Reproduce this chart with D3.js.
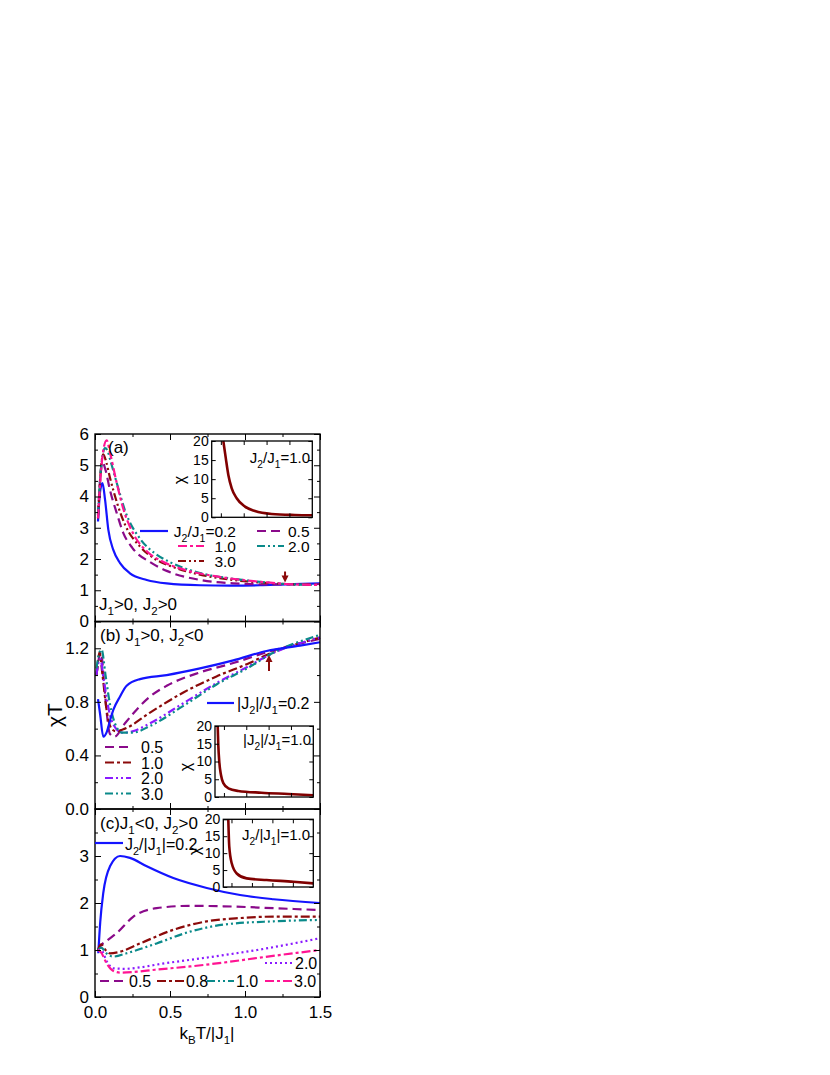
<!DOCTYPE html>
<html>
<head>
<meta charset="utf-8">
<script src="https://cdn.jsdelivr.net/npm/d3@7"></script>
<style>
body { margin: 0; background: #fff; }
text { font-family: "Liberation Sans", Arial, sans-serif; fill: #000; }
</style>
</head>
<body>
<script>
// ---- data: panel (a) J1>0, J2>0 ----
const aX02 = [0.02,0.035,0.05,0.067,0.089,0.122,0.167,0.233,0.345,0.478,0.7,0.9,1.1,1.27,1.5];
const aY02 = [3.2,4.2,4.43,3.9,2.93,2.29,1.87,1.54,1.33,1.22,1.16,1.15,1.16,1.19,1.22];
const aX05 = [0.02,0.035,0.05,0.07,0.1,0.145,0.189,0.25,0.367,0.478,0.7,0.922,1.14,1.27,1.5];
const aY05 = [3.4,4.6,5.1,4.85,4.2,3.47,2.83,2.35,1.9,1.62,1.33,1.22,1.19,1.19,1.2];
const aX10 = [0.02,0.04,0.06,0.078,0.1,0.145,0.189,0.256,0.345,0.45,0.6,0.8,1.0,1.15,1.27,1.5];
const aY10 = [3.3,4.8,5.6,5.8,5.4,4.43,3.6,2.8,2.25,1.92,1.65,1.45,1.32,1.25,1.2,1.17];
const aX20 = [0.02,0.04,0.067,0.085,0.1,0.15,0.2,0.3,0.4,0.5,0.7,0.9,1.1,1.27,1.5];
const aY20 = [3.4,4.9,5.55,5.45,5.2,4.35,3.55,2.65,2.18,1.9,1.55,1.38,1.27,1.2,1.17];
const aX30 = [0.02,0.035,0.055,0.075,0.1,0.15,0.2,0.3,0.4,0.5,0.7,0.9,1.1,1.27,1.5];
const aY30 = [3.3,4.6,5.35,5.1,4.6,3.75,3.1,2.4,2.0,1.78,1.5,1.34,1.25,1.2,1.17];

// ---- data: panel (b) J1>0, J2<0 ----
const bX02 = [0.02,0.035,0.055,0.08,0.1,0.122,0.167,0.211,0.3,0.478,0.7,0.922,1.144,1.367,1.5];
const bY02 = [0.82,0.7,0.54,0.58,0.66,0.74,0.84,0.92,0.97,1.0,1.05,1.11,1.18,1.22,1.245];
const bX05 = [0.01,0.025,0.04,0.06,0.08,0.1,0.13,0.2,0.367,0.478,0.7,0.922,1.144,1.5];
const bY05 = [1.0,1.12,1.17,0.95,0.7,0.56,0.54,0.64,0.84,0.92,1.02,1.09,1.17,1.27];
const bX10 = [0.01,0.02,0.03,0.05,0.08,0.11,0.14,0.2,0.367,0.589,0.81,1.03,1.144,1.5];
const bY10 = [1.0,1.1,1.17,1.0,0.72,0.6,0.58,0.6,0.72,0.87,0.99,1.09,1.15,1.28];
const bX20 = [0.01,0.02,0.035,0.06,0.1,0.14,0.18,0.25,0.367,0.589,0.81,1.03,1.16,1.5];
const bY20 = [1.0,1.08,1.12,0.95,0.7,0.6,0.57,0.58,0.64,0.79,0.94,1.07,1.15,1.28];
const bX30 = [0.01,0.025,0.044,0.07,0.1,0.14,0.18,0.25,0.367,0.589,0.81,1.03,1.16,1.5];
const bY30 = [1.05,1.15,1.19,1.0,0.78,0.62,0.57,0.57,0.62,0.77,0.93,1.06,1.15,1.3];

// ---- data: panel (c) J1<0, J2>0 ----
const cX02 = [0.022,0.035,0.055,0.1,0.167,0.233,0.345,0.522,0.745,0.967,1.19,1.5];
const cY02 = [0.93,1.6,2.21,2.78,3.0,2.96,2.78,2.53,2.32,2.17,2.08,2.0];
const cX05 = [0.02,0.033,0.08,0.145,0.256,0.411,0.633,0.856,1.19,1.5];
const cY05 = [1.0,1.07,1.2,1.36,1.71,1.89,1.94,1.93,1.89,1.85];
const cX08 = [0.02,0.04,0.07,0.1,0.15,0.3,0.522,0.745,0.967,1.19,1.5];
const cY08 = [1.0,1.12,1.0,0.93,0.95,1.14,1.43,1.61,1.68,1.71,1.71];
const cX10 = [0.02,0.04,0.08,0.122,0.21,0.411,0.633,0.856,1.19,1.5];
const cY10 = [1.0,1.05,0.92,0.86,0.93,1.14,1.39,1.54,1.61,1.64];
const cX20 = [0.02,0.04,0.08,0.122,0.2,0.3,0.45,0.633,0.878,1.08,1.5];
const cY20 = [1.0,1.0,0.75,0.61,0.6,0.63,0.71,0.79,0.9,1.0,1.25];
const cX30 = [0.02,0.04,0.08,0.12,0.17,0.25,0.4,0.633,0.85,1.08,1.5];
const cY30 = [1.0,0.95,0.7,0.56,0.52,0.53,0.58,0.65,0.73,0.83,1.0];

// ---- insets: chi vs T at ratio 1.0 ----
const inAX = [0.127,0.154,0.182,0.219,0.273,0.364,0.473,0.656,0.91,1.1];
const inAY = [20,15.5,11.1,7.6,5.0,2.8,1.65,0.87,0.6,0.52];
const inBX = [0.03,0.037,0.048,0.067,0.093,0.149,0.26,0.52,0.82,1.1];
const inBY = [20,14.6,9.9,6.2,3.9,2.45,1.7,1.2,0.85,0.5];
const inCX = [0.061,0.073,0.103,0.164,0.286,0.53,0.856,1.1];
const inCY = [20,11.9,7.0,4.0,2.55,2.05,1.56,1.08];

// ---- ticks ----
const xMajor = [0, 0.5, 1.0, 1.5];
const xMinor = [0.25, 0.75, 1.25];
const aMajor = [0, 1, 2, 3, 4, 5, 6];
const aMinor = [0.5, 1.5, 2.5, 3.5, 4.5, 5.5];
const bMajor = [0, 0.4, 0.8, 1.2];
const bMinor = [0.2, 0.6, 1.0];
const cMajor = [0, 1, 2, 3];
const cMinor = [0.5, 1.5, 2.5, 3.5];
const inYTicks = [0, 5, 10, 15, 20];
const inXTicks = [0.1, 0.35, 0.6, 0.85];

// ---- styles ----
const col = {
  blue: "#1414ff", purple: "#8a0a8a", dred: "#8b0a0a",
  pink: "#ff1493", teal: "#0a8a8a", violet: "#8a1aff"
};
const dash = {
  solid: null, dash: "9,5", dashdot: "9,3,3,3",
  dashdotdot: "8,3,2,3,2,3", dot: "2,3"
};

const svg = d3.select("body").append("svg")
  .attr("width", 830).attr("height", 1075);

const x = d3.scaleLinear([0, 1.5], [95, 320]);
const L = 95, R = 320;

function rich(sel, str) {
  const f = +sel.attr("font-size");
  const parts = str.split(/_(.)/);
  let low = false;
  parts.forEach((p, i) => {
    if (p === "") return;
    const sub = i % 2 === 1;
    let dy = 0;
    if (sub && !low) dy = f * 0.3;
    if (!sub && low) dy = -f * 0.3;
    sel.append("tspan").attr("dy", dy).attr("font-size", sub ? f * 0.68 : f).text(p);
    low = sub;
  });
  return sel;
}

function label(g, px, py, str, size, anchor) {
  const t = g.append("text").attr("x", px).attr("y", py)
    .attr("font-size", size).attr("text-anchor", anchor || "start");
  return rich(t, str);
}

const panels = [
  { y: d3.scaleLinear([0, 6], [621.5, 434]), major: aMajor, minor: aMinor, fmt: d3.format("d"),
    series: [
      [aX02, aY02, col.blue, dash.solid],
      [aX05, aY05, col.purple, dash.dash],
      [aX30, aY30, col.dred, dash.dashdotdot],
      [aX20, aY20, col.teal, dash.dashdotdot],
      [aX10, aY10, col.pink, dash.dashdot]
    ] },
  { y: d3.scaleLinear([0, 1.4], [809, 621.5]), major: bMajor, minor: bMinor, fmt: d3.format(".1f"),
    series: [
      [bX05, bY05, col.purple, dash.dash],
      [bX10, bY10, col.dred, dash.dashdot],
      [bX20, bY20, col.violet, dash.dashdotdot],
      [bX30, bY30, col.teal, dash.dashdotdot],
      [bX02, bY02, col.blue, dash.solid]
    ] },
  { y: d3.scaleLinear([0, 4], [997, 809]), major: cMajor, minor: cMinor, fmt: d3.format("d"),
    series: [
      [cX02, cY02, col.blue, dash.solid],
      [cX05, cY05, col.purple, dash.dash],
      [cX08, cY08, col.dred, dash.dashdot],
      [cX10, cY10, col.teal, dash.dashdotdot],
      [cX20, cY20, col.violet, dash.dot],
      [cX30, cY30, col.pink, dash.dashdot]
    ] }
];

panels.forEach((p, pi) => {
  const g = svg.append("g");
  const y = p.y;
  const top = y.range()[1], bot = y.range()[0];

  const line = d3.line().x(d => x(d[0])).y(d => y(d[1])).curve(d3.curveMonotoneX);
  p.series.forEach(s => {
    g.append("path")
      .datum(s[0].map((v, i) => [v, s[1][i]]))
      .attr("d", line)
      .attr("fill", "none")
      .attr("stroke", s[2])
      .attr("stroke-width", 2.2)
      .attr("stroke-dasharray", s[3]);
  });

  // axes with inward ticks
  const ax = (gen, tr) => g.append("g").attr("transform", tr).call(gen)
    .call(a => a.select(".domain").remove())
    .call(a => a.selectAll("text").attr("font-size", 17).attr("font-family", "Liberation Sans, Arial"));
  ax(d3.axisLeft(y).tickValues(p.major).tickSize(-6).tickPadding(6).tickFormat(p.fmt), `translate(${L},0)`);
  ax(d3.axisLeft(y).tickValues(p.minor).tickSize(-3).tickFormat(""), `translate(${L},0)`);
  ax(d3.axisRight(y).tickValues(p.major).tickSize(-6).tickFormat(""), `translate(${R},0)`);
  ax(d3.axisRight(y).tickValues(p.minor).tickSize(-3).tickFormat(""), `translate(${R},0)`);
  ax(d3.axisTop(x).tickValues(xMajor).tickSize(-6).tickFormat(""), `translate(0,${top})`);
  ax(d3.axisTop(x).tickValues(xMinor).tickSize(-3).tickFormat(""), `translate(0,${top})`);
  ax(d3.axisBottom(x).tickValues(xMajor).tickSize(-6).tickPadding(9)
      .tickFormat(pi === 2 ? d3.format(".1f") : ""), `translate(0,${bot})`);
  ax(d3.axisBottom(x).tickValues(xMinor).tickSize(-3).tickFormat(""), `translate(0,${bot})`);

  g.append("rect").attr("x", L).attr("y", top).attr("width", R - L).attr("height", bot - top)
    .attr("fill", "none").attr("stroke", "#000").attr("stroke-width", 1.4);
  p.g = g;
});

// ---- legends & annotations ----
function legLine(g, x1, x2, yy, c, d) {
  g.append("line").attr("x1", x1).attr("x2", x2).attr("y1", yy).attr("y2", yy)
    .attr("stroke", c).attr("stroke-width", 2.2).attr("stroke-dasharray", d);
}
const ga = panels[0].g, gb = panels[1].g, gc = panels[2].g;

// panel (a)
label(ga, 108, 453, "(a)", 17);
label(ga, 99, 610, "J_1>0, J_2>0", 17);
legLine(ga, 140, 168, 531, col.blue, dash.solid);
label(ga, 236, 537, "J_2/J_1=0.2", 15.5, "end");
legLine(ga, 178, 204, 546, col.pink, dash.dashdot);
label(ga, 236, 552, "1.0", 15.5, "end");
legLine(ga, 178, 204, 561, col.dred, dash.dashdotdot);
label(ga, 236, 567, "3.0", 15.5, "end");
legLine(ga, 257, 284, 531, col.purple, dash.dash);
label(ga, 288, 537, "0.5", 15.5);
legLine(ga, 257, 284, 546, col.teal, dash.dashdotdot);
label(ga, 288, 552, "2.0", 15.5);

// panel (b)
label(gb, 100, 641, "(b) J_1>0, J_2<0", 17);
legLine(gb, 207, 234, 703, col.blue, dash.solid);
label(gb, 237, 709, "|J_2|/J_1=0.2", 16);
[["0.5", col.purple, dash.dash], ["1.0", col.dred, dash.dashdot],
 ["2.0", col.violet, dash.dashdotdot], ["3.0", col.teal, dash.dashdotdot]].forEach((r, i) => {
  const yy = 747 + i * 15.5;
  legLine(gb, 105, 131, yy, r[1], r[2]);
  label(gb, 141, yy + 6, r[0], 16);
});

// panel (c)
label(gc, 100, 829, "(c)J_1<0, J_2>0", 17);
legLine(gc, 95, 123, 843, col.blue, dash.solid);
label(gc, 125, 850, "J_2/|J_1|=0.2", 16);
legLine(gc, 265, 293, 963, col.violet, dash.dot);
label(gc, 295, 969, "2.0", 16);
[["0.5", col.purple, dash.dash, 100], ["0.8", col.dred, dash.dashdot, 157],
 ["1.0", col.teal, dash.dashdotdot, 207], ["3.0", col.pink, dash.dashdot, 265]].forEach(r => {
  legLine(gc, r[3], r[3] + 27, 981, r[1], r[2]);
  label(gc, r[3] + 29, 987, r[0], 16);
});

// arrows marking crossing points
function arrow(g, xv, y1, y2) {
  const dir = y2 > y1 ? 1 : -1;
  g.append("line").attr("x1", xv).attr("x2", xv).attr("y1", y1).attr("y2", y2 - dir * 5)
    .attr("stroke", col.dred).attr("stroke-width", 2);
  g.append("path")
    .attr("d", `M${xv - 3.5},${y2 - dir * 7}L${xv + 3.5},${y2 - dir * 7}L${xv},${y2}Z`)
    .attr("fill", col.dred);
}
arrow(ga, x(1.267), panels[0].y(1.6), panels[0].y(1.25));
arrow(gb, x(1.16), panels[1].y(1.03), panels[1].y(1.15));

// ---- insets ----
const insets = [
  { g: ga, x0: 211.7, x1: 312.3, y0: 441, y1: 517.3, xs: inAX, ys: inAY,
    txt: "J_2/J_1=1.0", tx: 310, ty: 463, chiX: 185, chiY: 480 },
  { g: gb, x0: 215, x1: 313.3, y0: 726, y1: 797, xs: inBX, ys: inBY,
    txt: "|J_2|/J_1=1.0", tx: 311, ty: 745, chiX: 191, chiY: 767 },
  { g: gc, x0: 223.3, x1: 313.3, y0: 819.3, y1: 887, xs: inCX, ys: inCY,
    txt: "J_2/|J_1|=1.0", tx: 310, ty: 840, chiX: 200, chiY: 851 }
];
insets.forEach(s => {
  const g = s.g.append("g");
  const ix = d3.scaleLinear([0, 1.1], [s.x0, s.x1]);
  const iy = d3.scaleLinear([0, 20], [s.y1, s.y0]);
  g.append("rect").attr("x", s.x0).attr("y", s.y0).attr("width", s.x1 - s.x0).attr("height", s.y1 - s.y0)
    .attr("fill", "#fff").attr("stroke", "none");
  g.append("path")
    .datum(s.xs.map((v, i) => [v, s.ys[i]]))
    .attr("d", d3.line().x(d => ix(d[0])).y(d => iy(d[1])).curve(d3.curveMonotoneX))
    .attr("fill", "none").attr("stroke", "#800000").attr("stroke-width", 2.6);
  const ax = (gen, tr) => g.append("g").attr("transform", tr).call(gen)
    .call(a => a.select(".domain").remove())
    .call(a => a.selectAll("text").attr("font-size", 14).attr("font-family", "Liberation Sans, Arial"));
  ax(d3.axisLeft(iy).tickValues(inYTicks).tickSize(-4).tickPadding(3), `translate(${s.x0},0)`);
  ax(d3.axisRight(iy).tickValues(inYTicks).tickSize(-4).tickFormat(""), `translate(${s.x1},0)`);
  ax(d3.axisBottom(ix).tickValues(inXTicks).tickSize(-4).tickFormat(""), `translate(0,${s.y1})`);
  ax(d3.axisTop(ix).tickValues(inXTicks).tickSize(-4).tickFormat(""), `translate(0,${s.y0})`);
  g.append("rect").attr("x", s.x0).attr("y", s.y0).attr("width", s.x1 - s.x0).attr("height", s.y1 - s.y0)
    .attr("fill", "none").attr("stroke", "#000").attr("stroke-width", 1.3);
  label(g, s.tx, s.ty, s.txt, 15, "end");
  g.append("text").attr("transform", `translate(${s.chiX},${s.chiY}) rotate(-90)`)
    .attr("text-anchor", "middle").attr("font-size", 16).text("χ");
});

// ---- axis titles ----
label(svg, 207, 1039, "k_BT/|J_1|", 17, "middle");
svg.append("text").attr("transform", "translate(62,715) rotate(-90)")
  .attr("text-anchor", "middle").attr("font-size", 21).text("χT");
</script>
</body>
</html>
